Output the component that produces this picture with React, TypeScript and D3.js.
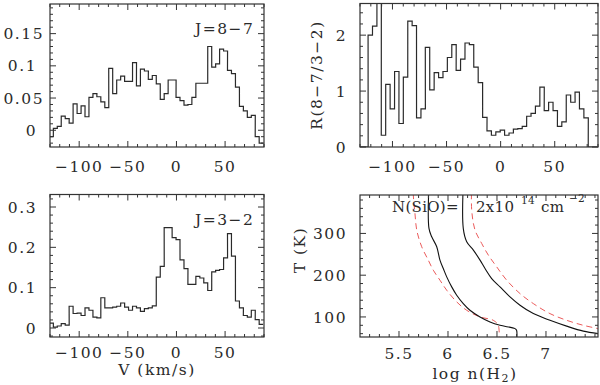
import React from "react";
import * as d3 from "d3";

// ---------- data ----------
const velocity = [
  -128.6, -124.5, -120.5, -116.4, -112.3, -108.3, -104.2, -100.1, -96.0, -92.0,
  -87.9, -83.8, -79.8, -75.7, -71.6, -67.6, -63.5, -59.4, -55.3, -51.3,
  -47.2, -43.1, -39.1, -35.0, -30.9, -26.9, -22.8, -18.7, -14.6, -10.6,
  -6.5, -2.4, 1.6, 5.7, 9.8, 13.8, 17.9, 22.0, 26.1, 30.1,
  34.2, 38.3, 42.3, 46.4, 50.5, 54.5, 58.6, 62.7, 66.8, 70.8,
  74.9, 79.0, 83.0, 87.1,
];
const channelWidth = 4.07;

const j87 = [
  -0.010, 0.003, 0.006, 0.022, 0.018, 0.011, 0.041, 0.026, 0.038, 0.021,
  0.051, 0.057, 0.052, 0.044, 0.035, 0.096, 0.057, 0.078, 0.084, 0.076,
  0.076, 0.105, 0.069, 0.095, 0.092, 0.079, 0.085, 0.072, 0.048, 0.057,
  0.078, 0.078, 0.051, 0.046, 0.039, 0.040, 0.051, 0.073, 0.073, 0.073,
  0.130, 0.098, 0.103, 0.126, 0.123, 0.093, 0.088, 0.067, 0.037, 0.030,
  0.020, 0.023, -0.010, -0.020,
];

const j32 = [
  0.012, 0.002, 0.005, 0.011, 0.007, 0.054, 0.036, 0.037, 0.031, 0.050,
  0.044, 0.027, 0.025, 0.075, 0.050, 0.050, 0.052, 0.054, 0.062, 0.052,
  0.044, 0.054, 0.050, 0.041, 0.048, 0.050, 0.055, 0.126, 0.153, 0.249,
  0.249, 0.224, 0.219, 0.169, 0.147, 0.108, 0.108, 0.128, 0.124, 0.112,
  0.093, 0.139, 0.143, 0.145, 0.174, 0.234, 0.178, 0.067, 0.050, 0.031,
  0.027, 0.044, 0.021, 0.009,
];

const ratio = [
  0, 0, 2.0, 2.16, 3.2, 0.21, 1.12, 0.68, 1.35, 0.42,
  1.25, 2.25, 2.17, 0.52, 0.68, 1.78, 1.02, 1.33, 1.24, 1.35,
  1.6, 1.83, 1.37, 1.57, 1.86, 1.83, 1.43, 1.15, 0.53, 0.29,
  0.21, 0.27, 0.3, 0.21, 0.25, 0.32, 0.33, 0.37, 0.55, 0.6,
  0.73, 1.07, 0.65, 0.8, 0.65, 0.37, 0.45, 0.93, 0.8, 0.98,
  0.68, 0.52, 0, 0,
];

// contours: [log n(H2), T(K)]
const lowerSolid: [number, number][] = [
  [5.806, 420], [5.806, 312], [5.834, 292], [5.885, 268], [5.918, 236], [5.952, 216],
  [5.987, 196], [6.038, 172], [6.089, 152], [6.156, 132], [6.224, 116], [6.327, 100],
  [6.429, 88], [6.531, 80], [6.684, 72], [6.70, 68], [6.70, 40],
];
const upperSolid: [number, number][] = [
  [6.156, 420], [6.156, 312], [6.191, 280], [6.259, 260], [6.327, 236], [6.378, 216],
  [6.446, 192], [6.531, 172], [6.633, 148], [6.735, 128], [6.871, 108], [7.041, 92],
  [7.211, 78], [7.381, 66], [7.534, 60],
];
const lowerDashed: [number, number][] = [
  [5.646, 420], [5.646, 392], [5.663, 348], [5.681, 308], [5.732, 268], [5.799, 236],
  [5.850, 212], [5.918, 188], [5.987, 164], [6.089, 136], [6.191, 116], [6.327, 100],
  [6.462, 92], [6.513, 80], [6.52, 40],
];
const upperDashed: [number, number][] = [
  [6.242, 420], [6.242, 356], [6.276, 308], [6.344, 276], [6.412, 248], [6.497, 220],
  [6.599, 188], [6.735, 156], [6.871, 132], [7.041, 108], [7.211, 92], [7.381, 80],
  [7.534, 72],
];

// ticks
const vTicks = [-100, -50, 0, 50];
const vTickLabels = ["\u2212100", "\u221250", "0", "50"];
const j87Ticks = [0, 0.05, 0.1, 0.15];
const j87TickLabels = ["0", "0.05", "0.1", "0.15"];
const ratioTicks = [0, 1, 2];
const ratioTickLabels = ["0", "1", "2"];
const j32Ticks = [0, 0.1, 0.2, 0.3];
const j32TickLabels = ["0", "0.1", "0.2", "0.3"];
const tTicks = [100, 200, 300];
const tTickLabels = ["100", "200", "300"];
const nTicks = [5.5, 6, 6.5, 7];
const nTickLabels = ["5.5", "6", "6.5", "7"];

// ---------- style ----------
const FONT = "'DejaVu Serif', serif";
const FS = 15.5;
const LS = 1.5;
const INK = "#2a2a2a";

type Lin = d3.ScaleLinear<number, number>;

function minorTicks(domain: number[], step: number): number[] {
  const lo = Math.min(domain[0], domain[1]);
  const hi = Math.max(domain[0], domain[1]);
  const start = Math.ceil(lo / step - 1e-9) * step;
  return d3.range(start, hi + 1e-9, step).map((v) => +v.toFixed(6));
}

function Frame(props: {
  id: string;
  xs: Lin;
  ys: Lin;
  xMajor: number[];
  xLabels: string[] | null;
  xMinor: number;
  yMajor: number[];
  yLabels: string[];
  yMinor: number;
  xLabelY: number;
  children?: React.ReactNode;
}) {
  const { id, xs, ys, xMajor, xLabels, xMinor, yMajor, yLabels, yMinor, xLabelY } = props;
  const [x0, x1] = xs.range();
  const [y0, y1] = ys.range(); // y0 bottom, y1 top
  const big = 6;
  const small = 3;
  const xm = minorTicks(xs.domain(), xMinor);
  const ym = minorTicks(ys.domain(), yMinor);
  const isMajor = (v: number, arr: number[]) => arr.some((a) => Math.abs(a - v) < 1e-6);
  const lines: React.ReactNode[] = [];
  xm.forEach((v, i) => {
    const L = isMajor(v, xMajor) ? big : small;
    const x = xs(v);
    lines.push(<line key={`xb${i}`} x1={x} x2={x} y1={y0} y2={y0 - L} />);
    lines.push(<line key={`xt${i}`} x1={x} x2={x} y1={y1} y2={y1 + L} />);
  });
  ym.forEach((v, i) => {
    const L = isMajor(v, yMajor) ? big : small;
    const y = ys(v);
    lines.push(<line key={`yl${i}`} x1={x0} x2={x0 + L} y1={y} y2={y} />);
    lines.push(<line key={`yr${i}`} x1={x1} x2={x1 - L} y1={y} y2={y} />);
  });
  return (
    <g>
      <defs>
        <clipPath id={id}>
          <rect x={x0} y={y1} width={x1 - x0} height={y0 - y1} />
        </clipPath>
      </defs>
      <g clipPath={`url(#${id})`}>{props.children}</g>
      <rect x={x0} y={y1} width={x1 - x0} height={y0 - y1} fill="none" stroke="#333" strokeWidth={1.2} />
      <g stroke="#333" strokeWidth={1}>{lines}</g>
      <g fontFamily={FONT} fontSize={FS} fill={INK} letterSpacing={LS}>
        {xLabels &&
          xMajor.map((v, i) => (
            <text key={`xl${i}`} x={xs(v)} y={xLabelY} textAnchor="middle">
              {xLabels[i]}
            </text>
          ))}
        {yMajor.map((v, i) => {
          const dec = (yLabels[i].split(".")[1] || "").length;
          return (
            <text
              key={`ylab${i}`}
              x={x0 - 13 + (dec >= 2 ? 7 : 0)}
              y={ys(v)}
              dy="0.36em"
              textAnchor="end"
            >
              {yLabels[i]}
            </text>
          );
        })}
      </g>
    </g>
  );
}

function histPath(xs: Lin, ys: Lin, vals: number[]): string {
  const pts: [number, number][] = [];
  velocity.forEach((c, i) => {
    const y = ys(vals[i]);
    pts.push([xs(c - channelWidth / 2), y]);
    pts.push([xs(c + channelWidth / 2), y]);
  });
  return d3.line()(pts) || "";
}

export default function App() {
  // top-left J=8-7
  const xTL = d3.scaleLinear().domain([-130, 90]).range([50, 264]);
  const yTL = d3.scaleLinear().domain([-0.026, 0.196]).range([147, 4]);
  // top-right ratio
  const xTR = d3.scaleLinear().domain([-130, 90]).range([360, 598]);
  const yTR = d3.scaleLinear().domain([0, 2.566]).range([147, 3.5]);
  // bottom-left J=3-2
  const xBL = d3.scaleLinear().domain([-130, 90]).range([50, 264]);
  const yBL = d3.scaleLinear().domain([-0.0223, 0.331]).range([337, 194.5]);
  // bottom-right contours
  const xBR = d3.scaleLinear().domain([5.102, 7.531]).range([360, 598]);
  const yBR = d3.scaleLinear().domain([52, 392]).range([337, 195]);

  const curve = d3
    .line<[number, number]>()
    .x((d) => xBR(d[0]))
    .y((d) => yBR(d[1]))
    .curve(d3.curveCatmullRom.alpha(0.5));

  return (
    <svg
      width={600}
      height={385}
      viewBox="0 0 600 385"
      style={{ position: "absolute", left: 0, top: 0, background: "#fff" }}
    >
      <rect x={0} y={0} width={600} height={385} fill="#fff" />

      <Frame id="cTL" xs={xTL} ys={yTL} xMajor={vTicks} xLabels={vTickLabels} xMinor={10}
        yMajor={j87Ticks} yLabels={j87TickLabels} yMinor={0.01} xLabelY={171.5}>
        <path d={histPath(xTL, yTL, j87)} fill="none" stroke={INK} strokeWidth={1.2} />
      </Frame>

      <Frame id="cTR" xs={xTR} ys={yTR} xMajor={vTicks} xLabels={vTickLabels} xMinor={10}
        yMajor={ratioTicks} yLabels={ratioTickLabels} yMinor={0.2} xLabelY={172}>
        <path d={histPath(xTR, yTR, ratio)} fill="none" stroke={INK} strokeWidth={1.2} />
      </Frame>

      <Frame id="cBL" xs={xBL} ys={yBL} xMajor={vTicks} xLabels={vTickLabels} xMinor={10}
        yMajor={j32Ticks} yLabels={j32TickLabels} yMinor={0.02} xLabelY={358}>
        <path d={histPath(xBL, yBL, j32)} fill="none" stroke={INK} strokeWidth={1.2} />
      </Frame>

      <Frame id="cBR" xs={xBR} ys={yBR} xMajor={nTicks} xLabels={nTickLabels} xMinor={0.1}
        yMajor={tTicks} yLabels={tTickLabels} yMinor={20} xLabelY={359}>
        <path d={curve(lowerDashed) || ""} fill="none" stroke="#e84848" strokeWidth={0.9} strokeDasharray="6,4" />
        <path d={curve(upperDashed) || ""} fill="none" stroke="#e84848" strokeWidth={0.9} strokeDasharray="6,4" />
        <path d={curve(lowerSolid) || ""} fill="none" stroke="#111" strokeWidth={1.1} />
        <path d={curve(upperSolid) || ""} fill="none" stroke="#111" strokeWidth={1.1} />
      </Frame>

      <g fontFamily={FONT} fontSize={FS} fill={INK} letterSpacing={LS}>
        <text x={195} y={34}>J=8{"\u2212"}7</text>
        <text x={195} y={225}>J=3{"\u2212"}2</text>
        <text x={322} y={75} textAnchor="middle" transform="rotate(-90 322 75)">
          R(8{"\u2212"}7/3{"\u2212"}2)
        </text>
        <text x={305} y={250} textAnchor="middle" transform="rotate(-90 305 250)">
          T (K)
        </text>
        <text x={157} y={375} textAnchor="middle">V (km/s)</text>
        <text x={475} y={379} textAnchor="middle">
          log n(H<tspan dy={3} fontSize={11}>2</tspan>
          <tspan dy={-3}>)</tspan>
        </text>
      </g>
      <g fontFamily={FONT} fontSize={15} fill={INK} letterSpacing={0.3}>
        <text x={392} y={212}>N(SiO)=</text>
        <text x={476} y={212}>2x10</text>
        <text x={521} y={204} fontSize={10.5}>14</text>
        <text x={541} y={212}>cm</text>
        <text x={569} y={202} fontSize={10.5}>{"\u2212"}2</text>
      </g>
    </svg>
  );
}
